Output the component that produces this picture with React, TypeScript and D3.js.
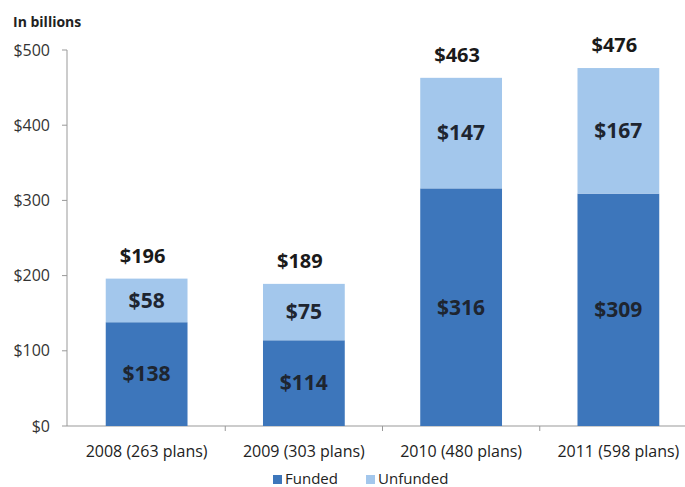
import * as d3 from "d3";

const categories = ["2008 (263 plans)", "2009 (303 plans)", "2010 (480 plans)", "2011 (598 plans)"];
const funded = [138, 114, 316, 309];
const unfunded = [58, 75, 147, 167];
const totals = [196, 189, 463, 476];
const yTicks = [0, 100, 200, 300, 400, 500];
const seriesNames = ["Funded", "Unfunded"];

const colors = ["#3d76bb", "#a3c7ec"];
const font = "'Open Sans', 'Noto Sans', sans-serif";

export default function App() {
  const width = 685;
  const height = 487;

  const x = d3.scaleBand().domain(categories).range([68, 697]).paddingInner(0.48).paddingOuter(0.24);
  const y = d3.scaleLinear().domain([0, 500]).range([426, 50]);

  const rows = categories.map((c, i) => ({ cat: c, Funded: funded[i], Unfunded: unfunded[i] }));
  const stacked = d3.stack<any>().keys(seriesNames)(rows);

  return (
    <svg width={width} height={height} style={{ position: "absolute", left: 0, top: 0 }} fontFamily={font}>
      <rect width={width} height={height} fill="#fff" />
      <text x={13} y={27} fontSize={14} fontWeight="bold" fill="#222">In billions</text>

      {/* y axis */}
      <line x1={67} x2={67} y1={y(500)} y2={y(0)} stroke="#999" />
      {yTicks.map((t) => (
        <g key={`yt-${t}`}>
          <line x1={62} x2={67} y1={y(t)} y2={y(t)} stroke="#999" />
          <text x={50} y={y(t)} dy="0.35em" textAnchor="end" fontSize={16} fill="#333">${t}</text>
        </g>
      ))}

      {/* x axis */}
      <line x1={67} x2={width} y1={y(0)} y2={y(0)} stroke="#999" />
      {categories.slice(1).map((c) => {
        const xx = (x(c) as number) - (x.step() - x.bandwidth()) / 2;
        return <line key={`xt-${c}`} x1={xx} x2={xx} y1={y(0)} y2={y(0) + 5} stroke="#999" />;
      })}

      {stacked.map((s, si) => (
        <g key={`s-${si}`} fill={colors[si]}>
          {s.map((d, i) => (
            <rect
              key={`r-${si}-${i}`}
              x={x(categories[i])}
              y={y(d[1])}
              width={x.bandwidth()}
              height={y(d[0]) - y(d[1])}
            />
          ))}
        </g>
      ))}

      {stacked.map((s, si) =>
        s.map((d, i) => (
          <text
            key={`l-${si}-${i}`}
            x={(x(categories[i]) as number) + x.bandwidth() / 2}
            y={y((d[0] + d[1]) / 2)}
            dy="0.35em"
            textAnchor="middle"
            fontSize={21}
            fontWeight="bold"
            fill="#1e2530"
          >
            ${d[1] - d[0]}
          </text>
        ))
      )}

      {totals.map((t, i) => (
        <text
          key={`t-${i}`}
          x={(x(categories[i]) as number) + x.bandwidth() / 2 - 4}
          y={y(t) - 16}
          textAnchor="middle"
          fontSize={20}
          fontWeight="bold"
          fill="#1a1a1a"
        >
          ${t}
        </text>
      ))}

      {categories.map((c) => (
        <text
          key={`c-${c}`}
          x={(x(c) as number) + x.bandwidth() / 2}
          y={451}
          dy="0.35em"
          textAnchor="middle"
          fontSize={16}
          fill="#222"
        >
          {c}
        </text>
      ))}

      {/* legend */}
      {seriesNames.map((n, i) => {
        const lx = [273, 366][i];
        return (
          <g key={`lg-${n}`}>
            <rect x={lx} y={475} width={9} height={9} fill={colors[i]} />
            <text x={lx + 12} y={479} dy="0.35em" fontSize={15} fill="#222">{n}</text>
          </g>
        );
      })}
    </svg>
  );
}
